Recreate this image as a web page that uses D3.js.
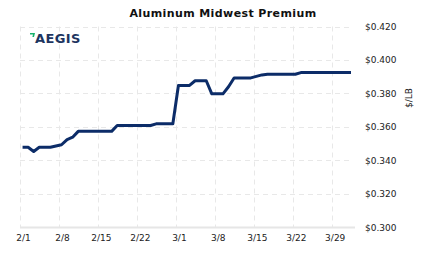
<!DOCTYPE html>
<html>
<head>
<meta charset="utf-8">
<script src="https://cdn.jsdelivr.net/npm/d3@7"></script>
<style>
  body { margin: 0; background: #fff; }
  text { font-family: "DejaVu Sans", Verdana, sans-serif; }
</style>
</head>
<body>
<div id="chart"></div>
<script>
// daily settlement values, 2/1 .. 4/1
var startDate = '2021-02-01'
var prices = [
  0.3479, 0.3479, 0.3454, 0.3479, 0.3479, 0.3479, 0.3487, 0.3494, 0.3525, 0.3539,
  0.3574, 0.3574, 0.3574, 0.3574, 0.3574, 0.3574, 0.3574, 0.3609, 0.3609, 0.3609,
  0.3609, 0.3609, 0.3609, 0.3609, 0.3619, 0.3619, 0.3619, 0.3619, 0.3848, 0.3848,
  0.3848, 0.3876, 0.3876, 0.3876, 0.3798, 0.3798, 0.3798, 0.3840, 0.3893, 0.3893,
  0.3893, 0.3893, 0.3902, 0.3911, 0.3915, 0.3915, 0.3915, 0.3915, 0.3915, 0.3915,
  0.3925, 0.3925, 0.3925, 0.3925, 0.3925, 0.3925, 0.3925, 0.3925, 0.3925, 0.3925
]
var yTicks = [0.30, 0.32, 0.34, 0.36, 0.38, 0.40, 0.42]
var xTickLabels = ['2/1', '2/8', '2/15', '2/22', '3/1', '3/8', '3/15', '3/22', '3/29']

var width = 423
var height = 257
var margin = { top: 26.5, right: 69, bottom: 29.5, left: 20 }

var parse = d3.timeParse('%Y-%m-%d %H')
var day0 = parse(startDate + ' 00')
// values are plotted at midday
var data = prices.map(function(v, i) {
  return { date: d3.timeHour.offset(day0, i * 24 + 11), value: v }
})

var xScale = d3.scaleTime()
  .domain([day0, d3.timeDay.offset(day0, 60)])
  .range([margin.left, width - margin.right])

var yScale = d3.scaleLinear()
  .domain([0.30, 0.42])
  .range([height - margin.bottom, margin.top])

var tickDates = xTickLabels.map(function(d, i) { return d3.timeDay.offset(day0, i * 7) })

var svg = d3.select('#chart').append('svg')
  .attr('width', width)
  .attr('height', height)

// grid
svg.append('g')
  .selectAll('line')
  .data(yTicks.slice(1))
  .join('line')
  .attr('x1', margin.left)
  .attr('x2', width - margin.right - 2)
  .attr('y1', d => Math.round(yScale(d)) + 0.5)
  .attr('y2', d => Math.round(yScale(d)) + 0.5)
  .attr('stroke', '#e8e8e8')
  .attr('stroke-dasharray', '5,4')

svg.append('g')
  .selectAll('line')
  .data(tickDates)
  .join('line')
  .attr('x1', d => Math.round(xScale(d)) + 0.5)
  .attr('x2', d => Math.round(xScale(d)) + 0.5)
  .attr('y1', margin.top)
  .attr('y2', height - margin.bottom)
  .attr('stroke', '#e8e8e8')
  .attr('stroke-dasharray', '5,4')

// bottom axis
var xAxis = d3.axisBottom(xScale)
  .tickValues(tickDates)
  .tickFormat((d, i) => xTickLabels[i])
  .tickSize(0)
  .tickPadding(7)

var gx = svg.append('g')
  .attr('transform', 'translate(0,' + (height - margin.bottom) + ')')
  .call(xAxis)
gx.select('.domain').attr('stroke', '#e6e6e6').attr('stroke-width', 2)
  .attr('d', 'M' + margin.left + ',0H' + (width - margin.right + 1))
gx.selectAll('text')
  .attr('dx', 3)
  .attr('font-size', 9)
  .attr('font-family', '"DejaVu Sans", Verdana, sans-serif')
  .attr('fill', '#222')

// right axis
var yAxis = d3.axisRight(yScale)
  .tickValues(yTicks)
  .tickFormat(d3.format('$.3f'))
  .tickSize(0)
  .tickPadding(10)

var gy = svg.append('g')
  .attr('transform', 'translate(' + (width - margin.right + 1) + ',0)')
  .call(yAxis)
gy.select('.domain').remove()
gy.selectAll('text')
  .attr('font-size', 9)
  .attr('font-family', '"DejaVu Sans", Verdana, sans-serif')
  .attr('fill', '#222')

svg.append('text')
  .attr('transform', 'translate(412,98) rotate(-90)')
  .attr('text-anchor', 'middle')
  .attr('font-size', 9)
  .attr('fill', '#222')
  .text('$/LB')

// price line
var line = d3.line()
  .x(d => xScale(d.date))
  .y(d => yScale(d.value))

svg.append('path')
  .datum(data)
  .attr('d', line)
  .attr('fill', 'none')
  .attr('stroke', '#0c2c68')
  .attr('stroke-width', 3)
  .attr('stroke-linejoin', 'round')

// title
svg.append('text')
  .attr('x', 223)
  .attr('y', 17)
  .attr('text-anchor', 'middle')
  .attr('font-size', 11)
  .attr('font-weight', 'bold')
  .attr('letter-spacing', 0.4)
  .attr('fill', '#111')
  .text('Aluminum Midwest Premium')

// logo
var logo = svg.append('g').attr('transform', 'translate(30,33)')
logo.append('path')
  .attr('d', 'M0,0H5L4,4H2.4L3,1.6H0Z')
  .attr('fill', '#17b26a')
logo.append('text')
  .attr('x', 5)
  .attr('y', 10)
  .attr('font-size', 13)
  .attr('font-weight', 'bold')
  .attr('letter-spacing', 0.4)
  .attr('fill', '#1d3560')
  .text('AEGIS')
</script>
</body>
</html>
